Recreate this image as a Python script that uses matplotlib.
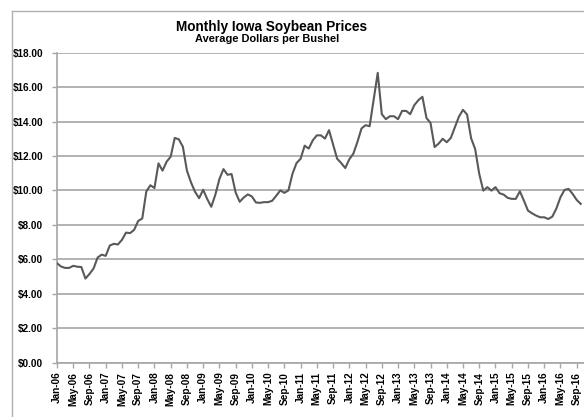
import numpy as np
import matplotlib
matplotlib.use("Agg")
import matplotlib.pyplot as plt
from matplotlib.lines import Line2D
from matplotlib.ticker import FuncFormatter, MultipleLocator

plt.rcParams["font.family"] = ["Liberation Sans", "DejaVu Sans"]
plt.rcParams["font.weight"] = "bold"

# Iowa soybean price, monthly average $/bu, Jan-06 onwards
prices = [
    5.77, 5.58, 5.50, 5.50, 5.62, 5.57, 5.55, 4.88, 5.15, 5.46, 6.10, 6.27,    # 2006
    6.20, 6.80, 6.90, 6.86, 7.13, 7.55, 7.52, 7.71, 8.23, 8.37, 9.94, 10.30,   # 2007
    10.14, 11.57, 11.15, 11.67, 11.96, 13.05, 12.97, 12.54, 11.15, 10.47, 9.92, 9.55,  # 2008
    10.04, 9.50, 9.05, 9.75, 10.66, 11.24, 10.91, 10.95, 9.88, 9.34, 9.59, 9.77,  # 2009
    9.65, 9.30, 9.28, 9.32, 9.32, 9.40, 9.69, 10.00, 9.86, 10.00, 10.97, 11.59,  # 2010
    11.84, 12.60, 12.43, 12.91, 13.20, 13.20, 13.01, 13.50, 12.66, 11.84, 11.59, 11.30,  # 2011
    11.81, 12.14, 12.82, 13.60, 13.79, 13.73, 15.30, 16.83, 14.43, 14.14, 14.31, 14.31,  # 2012
    14.14, 14.62, 14.62, 14.43, 14.95, 15.24, 15.44, 14.21, 13.92, 12.52, 12.72, 13.00,  # 2013
    12.80, 13.05, 13.67, 14.29, 14.68, 14.41, 13.03, 12.40, 10.96, 9.99, 10.19, 9.99,  # 2014
    10.19, 9.84, 9.76, 9.57, 9.51, 9.51, 9.95, 9.41, 8.83, 8.67, 8.54, 8.44,   # 2015
    8.44, 8.34, 8.48, 8.95, 9.60, 10.03, 10.09, 9.80, 9.45, 9.22,              # 2016
]

tick_labels = []
for yr in range(6, 17):
    for mon in ["Jan", "May", "Sep"]:
        tick_labels.append(f"{mon}-{yr:02d}")

W, H = 584, 417
fig = plt.figure(figsize=(W / 100, H / 100), dpi=100)

# plot area: x 57..584 px, y 52.7..362.6 px
ax = fig.add_axes([57 / W, (H - 362.6) / H, (W - 57) / W, (362.6 - 52.7) / H])
ax.plot(np.arange(len(prices)), prices, color="#595959", lw=1.5, zorder=3)

ax.set_xlim(0, (W - 57) / 4.06)
ax.set_ylim(0, 18)
ax.yaxis.set_major_locator(MultipleLocator(2))
ax.yaxis.set_major_formatter(FuncFormatter(lambda v, p: f"${v:.2f}"))
ax.set_xticks(np.arange(0, 4 * len(tick_labels), 4))
ax.set_xticklabels(tick_labels, rotation=90)

ax.grid(axis="y", color="#a6a6a6", lw=1.2)
ax.set_axisbelow(True)
for s in ["top", "right"]:
    ax.spines[s].set_visible(False)
for s in ["left", "bottom"]:
    ax.spines[s].set_color("#a6a6a6")
    ax.spines[s].set_linewidth(1.2)
ax.tick_params(axis="y", length=3.5, width=1, color="#a6a6a6", labelsize=7.2, pad=6.5)
ax.tick_params(axis="x", length=3.5, width=1, color="#a6a6a6", labelsize=7.2, pad=3)

fig.text(272 / W, 1 - 27 / H, "Monthly Iowa Soybean Prices",
         ha="center", va="center", fontsize=9.8, fontweight="bold")
fig.text(267 / W, 1 - 39 / H, "Average Dollars per Bushel",
         ha="center", va="center", fontsize=7.9, fontweight="bold")

# chart-area border (cropped at right and bottom)
fig.add_artist(Line2D([12.3 / W, 12.3 / W], [0, 1 - 10.7 / H], color="#b0b0b0", lw=1))
fig.add_artist(Line2D([12.3 / W, 1], [1 - 10.7 / H, 1 - 10.7 / H], color="#b0b0b0", lw=1))

fig.savefig("out.png", dpi=100)
